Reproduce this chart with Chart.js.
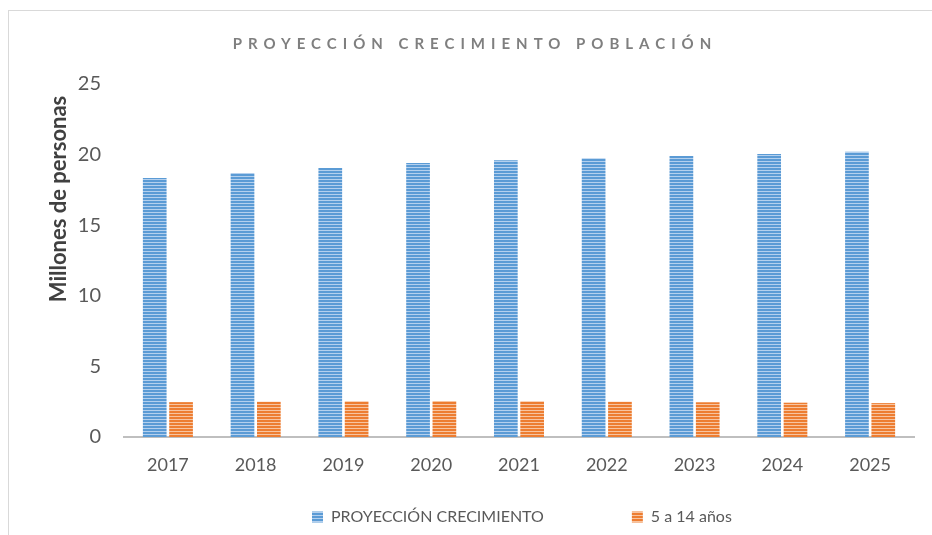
<!DOCTYPE html>
<html>
<head>
<meta charset="utf-8">
<script src="https://cdn.jsdelivr.net/npm/chart.js@4"></script>
<style>
  html, body { margin: 0; padding: 0; background: #fff; }
  #wrap { width: 932px; height: 535px; position: relative; }
</style>
</head>
<body>
<div id="wrap"><canvas id="myBarChart"></canvas></div>
<script>
const years = ["2017", "2018", "2019", "2020", "2021", "2022", "2023", "2024", "2025"];
const proyeccion = [18.35, 18.7, 19.05, 19.4, 19.6, 19.75, 19.9, 20.05, 20.2];
const edad5a14 = [2.47, 2.5, 2.53, 2.55, 2.53, 2.5, 2.46, 2.43, 2.4];
const yTicks = [0, 5, 10, 15, 20, 25];

const FONT = "Lato, 'Open Sans', sans-serif";
const LEGEND_GAP = 88;

// striped fill like the Excel pattern
function stripes(base, light) {
    const c = document.createElement("canvas");
    c.width = 4; c.height = 3;
    const g = c.getContext("2d");
    g.fillStyle = base;
    g.fillRect(0, 0, 4, 3);
    g.fillStyle = light;
    g.fillRect(0, 2, 4, 1);
    return g.createPattern(c, "repeat");
}

const framePlugin = {
    id: "frame",
    beforeLayout(chart) {
        // keep the wide legend spacing from eating the plot height
        const lg = chart.legend;
        if (lg && !lg._fixed) {
            const fit = lg.fit;
            lg.fit = function () { fit.call(this); this.height = 60; };
            lg._fixed = true;
        }
    },
    afterLayout(chart) {
        const lg = chart.legend;
        lg.top = 517 - 8 - LEGEND_GAP;
        lg.bottom = 535;
        lg.left = 312 - LEGEND_GAP;
        lg.right = 932;
    },
    beforeDraw(chart) {
        const ctx = chart.ctx;
        ctx.save();
        ctx.strokeStyle = "#d9d9d9";
        ctx.lineWidth = 1;
        ctx.strokeRect(8.5, 10.5, 1000, 1000);
        ctx.restore();
    },
    afterDraw(chart) {
        const ctx = chart.ctx;
        // spaced title
        ctx.save();
        ctx.font = "bold 15px " + FONT;
        ctx.fillStyle = "#7f7f7f";
        ctx.letterSpacing = "6px";
        ctx.textAlign = "center";
        ctx.textBaseline = "middle";
        ctx.fillText("PROYECCIÓN CRECIMIENTO POBLACIÓN", 475, 44);
        ctx.restore();
        // y axis title
        ctx.save();
        ctx.translate(59, 199);
        ctx.rotate(-Math.PI / 2);
        ctx.font = "bold 22px " + FONT;
        ctx.fillStyle = "#404040";
        ctx.textAlign = "center";
        ctx.textBaseline = "middle";
        ctx.fillText("Millones de personas", 0, 0);
        ctx.restore();
    }
};

const ctx = document.getElementById("myBarChart").getContext("2d");
new Chart(ctx, {
    type: "bar",
    data: {
        labels: years,
        datasets: [
            {
                label: "PROYECCIÓN CRECIMIENTO",
                data: proyeccion,
                backgroundColor: stripes("#5b9bd5", "#b4d0ee"),
                borderWidth: 0
            },
            {
                label: "5 a 14 años",
                data: edad5a14,
                backgroundColor: stripes("#ed7d31", "#f7c4a0"),
                borderWidth: 0
            }
        ]
    },
    options: {
        responsive: true,
        maintainAspectRatio: false,
        animation: false,
        categoryPercentage: 0.6,
        barPercentage: 0.9,
        layout: { padding: { top: 84, right: 18, left: 0, bottom: 0 } },
        plugins: {
            tooltip: { enabled: false },
            title: { display: false },
            legend: {
                position: "bottom",
                align: "start",
                labels: {
                    font: { family: FONT, size: 16 },
                    color: "#595959",
                    boxWidth: 11,
                    boxHeight: 11,
                    padding: LEGEND_GAP
                }
            }
        },
        scales: {
            x: {
                grid: { display: false, drawTicks: false },
                border: { color: "#bfbfbf", width: 2 },
                ticks: { font: { family: FONT, size: 18 }, color: "#595959", padding: 17 },
                afterFit(s) { s.height = 38; }
            },
            y: {
                min: 0,
                max: 25,
                afterBuildTicks(s) { s.ticks = yTicks.map(v => ({ value: v })); },
                grid: { display: false, drawTicks: false },
                border: { display: false },
                ticks: { font: { family: FONT, size: 20 }, color: "#595959", padding: 23 },
                afterFit(s) { s.width = 124; }
            }
        }
    },
    plugins: [framePlugin]
});
</script>
</body>
</html>
